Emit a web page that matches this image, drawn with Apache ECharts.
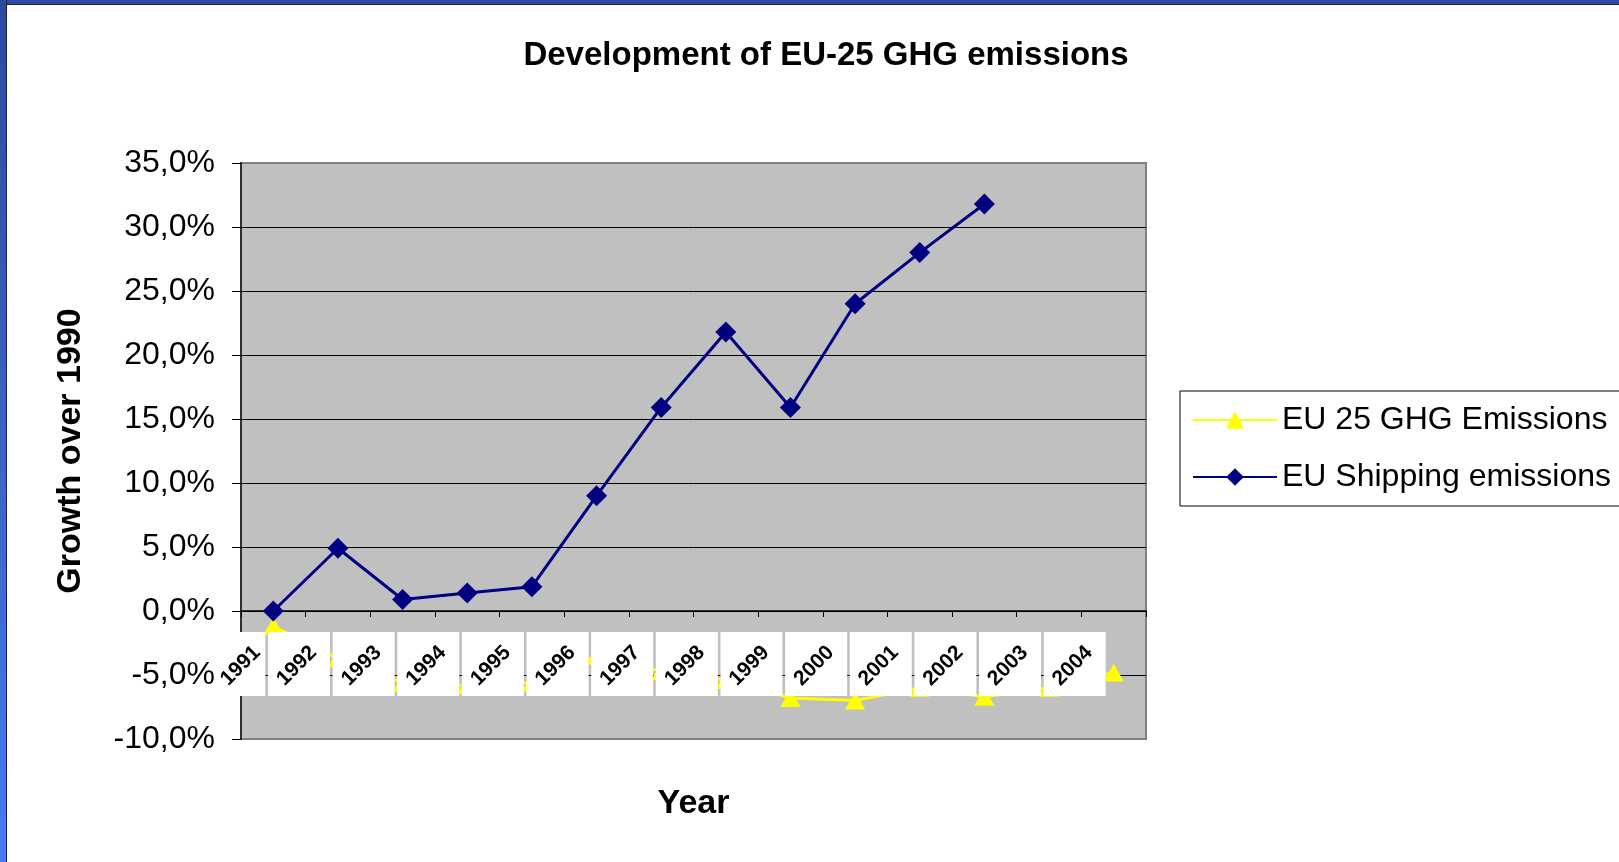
<!DOCTYPE html>
<html>
<head>
<meta charset="utf-8">
<script src="https://cdn.jsdelivr.net/npm/echarts@6/dist/echarts.min.js"></script>
<style>
  html, body { margin: 0; padding: 0; background: #fff; overflow: hidden; }
  #chart { position: absolute; left: 0; top: 0; width: 1619px; height: 862px; }
  #topbar { position: absolute; left: 0; top: 0; width: 1619px; height: 4px; background: #2f4a9e; border-bottom: 1px solid #222; z-index: 5; }
  #leftbar { position: absolute; left: 0; top: 0; width: 6px; height: 862px; background: linear-gradient(#2e4a9c, #4b78f2); border-right: 1px solid #222; z-index: 5; }
</style>
</head>
<body>
<div id="chart"></div>
<div id="topbar"></div>
<div id="leftbar"></div>
<script>
const categories = ['1991','1992','1993','1994','1995','1996','1997','1998','1999','2000','2001','2002','2003','2004'];
const ghgEmissions = [-1.2, -3.7, -5.6, -5.8, -5.6, -3.5, -4.7, -5.4, -6.8, -7.0, -6.0, -6.7, -6.0, -4.8];
const shippingEmissions = [0.0, 4.9, 0.9, 1.4, 1.9, 9.0, 15.9, 21.8, 15.9, 24.0, 28.0, 31.8];
const yTicks = { min: -10, max: 35, interval: 5 };

const FONT = "'Liberation Sans', Arial, sans-serif";
const chart = echarts.init(document.getElementById('chart'));

chart.setOption({
  animation: false,
  backgroundColor: '#ffffff',
  title: {
    text: 'Development of EU-25 GHG emissions',
    left: 821, top: 34, textAlign: 'center',
    textStyle: { fontFamily: FONT, fontSize: 33, fontWeight: 'bold', color: '#000' }
  },
  legend: {
    orient: 'vertical',
    left: 1180, top: 391,
    padding: [12, 10, 12, 12],
    borderColor: '#000', borderWidth: 1,
    backgroundColor: '#fff',
    itemWidth: 84, itemHeight: 22, itemGap: 23,
    textStyle: { fontFamily: FONT, fontSize: 32, color: '#000', lineHeight: 34 },
    data: ['EU 25 GHG Emissions', 'EU Shipping emissions']
  },
  grid: {
    left: 241, top: 163, width: 905, height: 576,
    outerBoundsMode: 'none',
    containLabel: false,
    show: true, backgroundColor: '#c0c0c0', borderColor: '#808080', borderWidth: 2
  },
  xAxis: {
    type: 'category',
    data: categories,
    boundaryGap: true,
    z: 4,
    axisLine: { onZero: true, lineStyle: { color: '#000', width: 1.5 } },
    axisTick: { show: true, length: 6, lineStyle: { color: '#000', width: 1 } },
    axisLabel: { show: false },
    splitLine: { show: false },
    name: 'Year',
    nameLocation: 'middle',
    nameGap: 48,
    nameTextStyle: { fontFamily: FONT, fontSize: 34, fontWeight: 'bold', color: '#000' }
  },
  yAxis: {
    type: 'value',
    min: yTicks.min, max: yTicks.max, interval: yTicks.interval,
    axisLine: { show: true, lineStyle: { color: '#303030', width: 2 } },
    axisTick: { show: true, length: 9, lineStyle: { color: '#000', width: 1 } },
    axisLabel: {
      margin: 26,
      fontFamily: FONT, fontSize: 32, color: '#000',
      formatter: v => v.toFixed(1).replace('.', ',') + '%'
    },
    splitLine: { show: true, showMinLine: false, showMaxLine: false, lineStyle: { color: '#000', width: 1 } },
    name: 'Growth over 1990',
    nameLocation: 'middle',
    nameGap: 153,
    nameRotate: 90,
    nameTextStyle: { fontFamily: FONT, fontSize: 34, fontWeight: 'bold', color: '#000' }
  },
  series: [
    {
      name: 'EU 25 GHG Emissions',
      type: 'line',
      data: ghgEmissions,
      z: 2,
      symbol: 'triangle', symbolSize: [20, 18],
      showAllSymbol: true,
      lineStyle: { color: '#ffff00', width: 3 },
      itemStyle: { color: '#ffff00' }
    },
    {
      name: 'labels',
      type: 'custom',
      z: 3,
      silent: true,
      clip: false,
      data: categories.map((c, i) => [i, 0]),
      renderItem: function (params, api) {
        const i = api.value(0);
        const p = api.coord([i, 0]);
        const cs = params.coordSys;
        let x0 = p[0] - 70, x1 = p[0] - 8;
        if (x0 < cs.x - 21) x0 = cs.x - 21;
        const y0 = p[1] + 21, h = 64;
        return {
          type: 'group',
          children: [
            { type: 'rect', shape: { x: x0, y: y0, width: x1 - x0, height: h }, style: { fill: '#fff' } },
            { type: 'text', x: (x0 + x1) / 2 - 2, y: y0 + h / 2 + 2, rotation: Math.PI / 4,
              style: { text: categories[i], font: 'bold 21px ' + FONT, fill: '#000', align: 'center', verticalAlign: 'middle' } }
          ]
        };
      }
    },
    {
      name: 'EU Shipping emissions',
      type: 'line',
      data: shippingEmissions,
      z: 5,
      symbol: 'diamond', symbolSize: 21,
      showAllSymbol: true,
      lineStyle: { color: '#000080', width: 3 },
      itemStyle: { color: '#000080' }
    }
  ]
});
</script>
</body>
</html>
